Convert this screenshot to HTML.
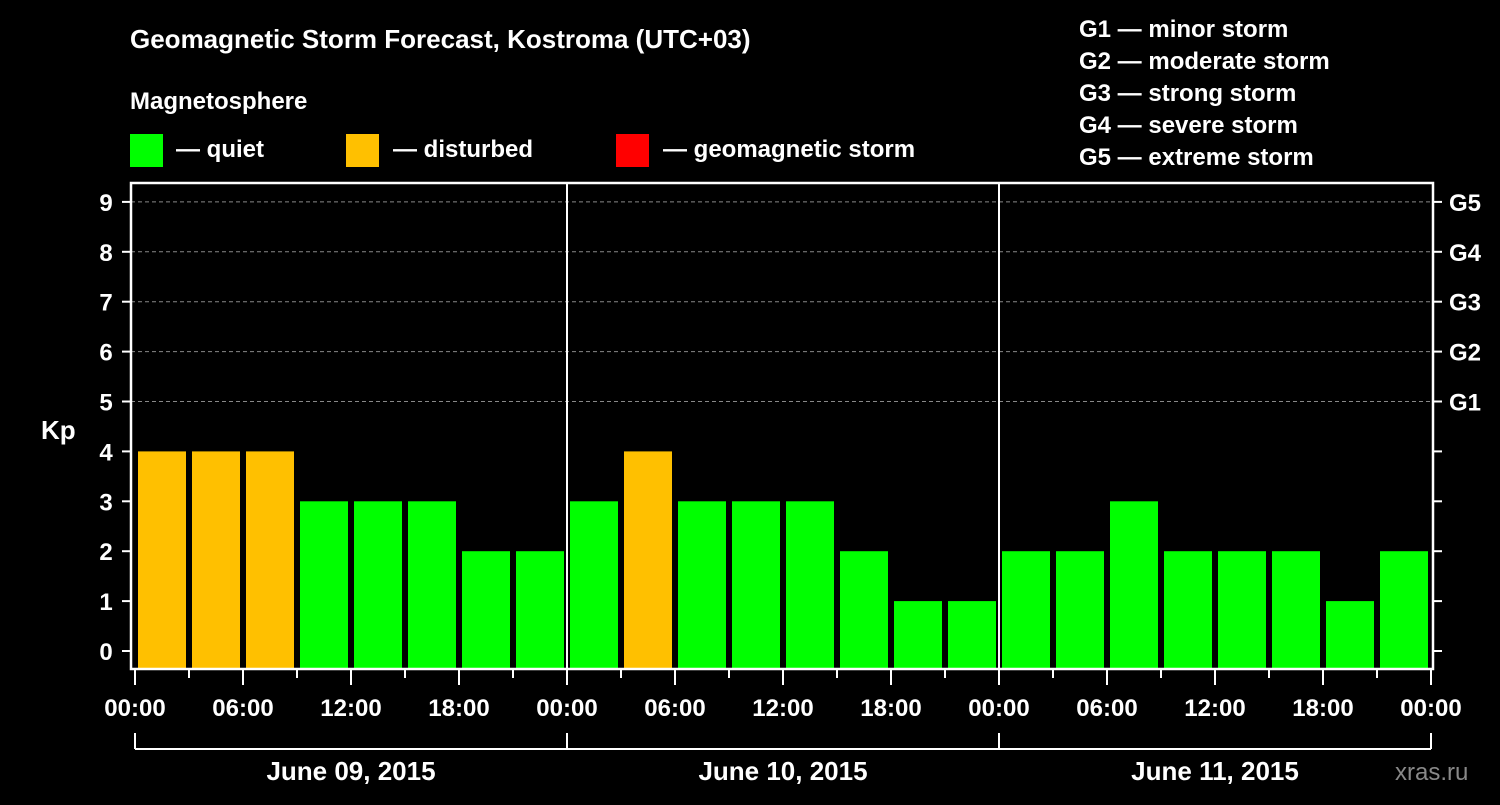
<!DOCTYPE html>
<html><head><meta charset="utf-8"><style>
body{margin:0;background:#000;width:1500px;height:800px;overflow:hidden;font-family:"Liberation Sans",sans-serif}
</style></head><body>
<svg id="c" width="1500" height="800" xmlns="http://www.w3.org/2000/svg" font-family="Liberation Sans, sans-serif" font-weight="bold" fill="#fff">
<rect width="1500" height="800" fill="#000"/>
<text x="130" y="48" font-size="26">Geomagnetic Storm Forecast, Kostroma (UTC+03)</text>
<text x="130" y="109" font-size="24">Magnetosphere</text>
<g font-size="24">
<rect x="130" y="134" width="33" height="33" fill="#00ff00"/>
<text x="176" y="157">— quiet</text>
<rect x="346" y="134" width="33" height="33" fill="#ffc000"/>
<text x="393" y="157">— disturbed</text>
<rect x="616" y="134" width="33" height="33" fill="#ff0000"/>
<text x="663" y="157">— geomagnetic storm</text>
</g>
<g font-size="24">
<text x="1079" y="37">G1 — minor storm</text>
<text x="1079" y="69">G2 — moderate storm</text>
<text x="1079" y="101">G3 — strong storm</text>
<text x="1079" y="133">G4 — severe storm</text>
<text x="1079" y="165">G5 — extreme storm</text>
</g>
<text x="41" y="439" font-size="26">Kp</text>
<text x="1395" y="780" font-size="24" fill="#888" font-weight="normal">xras.ru</text>
<g id="plot"></g>
</svg>
<script>
const kpValues=[4,4,4,3,3,3,2,2, 3,4,3,3,3,2,1,1, 2,2,3,2,2,2,1,2];
const dayLabels=["June 09, 2015","June 10, 2015","June 11, 2015"];
const hourLabels=["00:00","06:00","12:00","18:00"];
const yTicks=[0,1,2,3,4,5,6,7,8,9];
const gLabels=["G1","G2","G3","G4","G5"];
const NS="http://www.w3.org/2000/svg";
const g=document.getElementById('plot');
const X0=135,DAY=432,L=131,R=1433,T=183,B=669;
const y=v=>651-v*49.9;
const xh=h=>X0+h*DAY/24;
function mk(t,a,p){const e=document.createElementNS(NS,t);for(const k in a)e.setAttribute(k,a[k]);(p||g).appendChild(e);return e;}
// grid
yTicks.forEach(v=>{if(v>=5){const l=mk('line',{x1:L,x2:R,y1:y(v),y2:y(v),stroke:'#888','stroke-dasharray':'4,3','stroke-width':1});

}});
// bars
kpValues.forEach((v,i)=>{const x=xh(i*3)+3;const c=v>=5?'#ff0000':(v>=4?'#ffc000':'#00ff00');
const r=mk('rect',{x:x,y:y(v),width:48,height:B-y(v),fill:c});

});
// frame
mk('rect',{x:L,y:T,width:R-L,height:B-T,fill:'none',stroke:'#fff','stroke-width':2.5});
[1,2].forEach(d=>{const l=mk('line',{x1:X0+d*DAY,x2:X0+d*DAY,y1:T,y2:B,stroke:'#fff','stroke-width':2});

});
// y ticks
yTicks.forEach(v=>{mk('line',{x1:122,x2:L,y1:y(v),y2:y(v),stroke:'#fff','stroke-width':2});
mk('line',{x1:R,x2:1442,y1:y(v),y2:y(v),stroke:'#fff','stroke-width':2});
const t=mk('text',{x:106,y:y(v)+9,'font-size':24,'text-anchor':'middle'});t.textContent=v;

});
gLabels.forEach((s,i)=>{const t=mk('text',{x:1449,y:y(5+i)+9,'font-size':24});t.textContent=s;

});
// x ticks
for(let i=0;i<=24;i++){const x=xh(i*3);mk('line',{x1:x,x2:x,y1:B,y2:i%2?678:685,stroke:'#fff','stroke-width':2});}
for(let d=0;d<3;d++)for(let k=0;k<4;k++){const t=mk('text',{x:xh(d*24+k*6),y:716,'font-size':24,'text-anchor':'middle'});t.textContent=hourLabels[k];

}
const t=mk('text',{x:xh(72),y:716,'font-size':24,'text-anchor':'middle'});t.textContent=hourLabels[0];


// day brackets
mk('line',{x1:X0,x2:X0+3*DAY,y1:749,y2:749,stroke:'#fff','stroke-width':2});
for(let d=0;d<=3;d++)mk('line',{x1:X0+d*DAY,x2:X0+d*DAY,y1:733,y2:749,stroke:'#fff','stroke-width':2});
dayLabels.forEach((s,d)=>{const e=mk('text',{x:X0+d*DAY+DAY/2,y:780,'font-size':26,'text-anchor':'middle'});e.textContent=s;

});
</script>
</body></html>
